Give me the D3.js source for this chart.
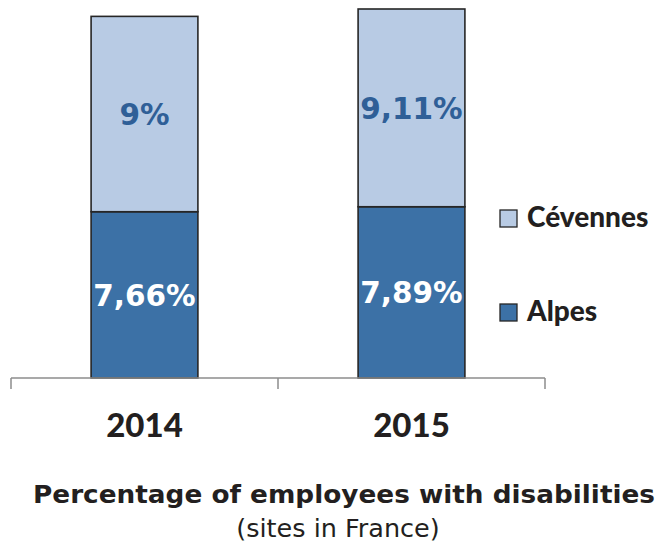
<!DOCTYPE html>
<html><head><meta charset="utf-8">
<script src="https://cdn.jsdelivr.net/npm/d3@7"></script>
<style>body{margin:0;background:#fff}</style>
</head><body>
<svg id="c" width="657" height="548"></svg>
<script>
const years = ["2014", "2015"];
const alpes = [7.66, 7.89];
const cevennes = [9, 9.11];
const alpesLabels = ["7,66%", "7,89%"];
const cevennesLabels = ["9%", "9,11%"];
const seriesNames = ["Cévennes", "Alpes"];

const svg = d3.select("#c");
const x = d3.scaleBand().domain(years).range([11, 545]).paddingInner(0.6).paddingOuter(0.3);
const y = d3.scaleLinear().domain([0, 17]).range([378, 9]);
const colors = {Alpes: "#3C71A6", "Cévennes": "#B8CBE4"};

const data = years.map((yr, i) => ({year: yr, Alpes: alpes[i], "Cévennes": cevennes[i]}));
const stack = d3.stack().keys(["Alpes", "Cévennes"])(data);

const g = svg.append("g");
stack.forEach(s => {
  g.selectAll(null).data(s).join("rect")
    .attr("x", d => x(d.data.year))
    .attr("y", d => y(d[1]))
    .attr("width", x.bandwidth())
    .attr("height", d => y(d[0]) - y(d[1]))
    .attr("fill", colors[s.key])
    .attr("stroke", "#262626")
    .attr("stroke-width", 1.6);
});

// value labels
const lblFont = "'DejaVu Sans', Verdana, sans-serif";
years.forEach((yr, i) => {
  const cx = x(yr) + x.bandwidth() / 2;
  svg.append("text").attr("x", cx).attr("y", y(alpes[i] / 2) + 11)
    .attr("text-anchor", "middle").attr("font-family", lblFont).attr("font-weight", "bold")
    .attr("font-size", 29.5).attr("fill", "#ffffff").text(alpesLabels[i]);
  svg.append("text").attr("x", cx).attr("y", y(alpes[i] + cevennes[i] / 2) + 11)
    .attr("text-anchor", "middle").attr("font-family", lblFont).attr("font-weight", "bold")
    .attr("font-size", 29.5).attr("fill", "#2F5F97").text(cevennesLabels[i]);
});

// axis
const axisG = svg.append("g").attr("transform", "translate(0,378)");
axisG.append("line").attr("x1", 11).attr("x2", 545).attr("y1", 0).attr("y2", 0)
  .attr("stroke", "#8c8c8c").attr("stroke-width", 1.5);
const tickXs = [x.range()[0], (x(years[0]) + x.bandwidth() + x(years[1])) / 2, x.range()[1]];
tickXs.forEach(tx => axisG.append("line").attr("x1", tx).attr("x2", tx).attr("y1", 0).attr("y2", 11)
  .attr("stroke", "#8c8c8c").attr("stroke-width", 1.5));
const catFont = "Lato, 'Open Sans', sans-serif";
years.forEach(yr => {
  svg.append("text").attr("x", x(yr) + x.bandwidth() / 2).attr("y", 437)
    .attr("text-anchor", "middle").attr("font-family", catFont).attr("font-weight", 900)
    .attr("font-size", 33).attr("fill", "#231f20").text(yr);
});

// legend
const legTop = [210, 304];
seriesNames.forEach((name, i) => {
  svg.append("rect").attr("x", 500).attr("y", legTop[i]).attr("width", 17).attr("height", 17)
    .attr("fill", colors[name]).attr("stroke", "#262626").attr("stroke-width", 1.3);
  svg.append("text").attr("x", 527).attr("y", legTop[i] + 17)
    .attr("font-family", catFont).attr("font-weight", 900).attr("font-size", 28)
    .attr("fill", "#231f20").text(name);
});

// title
svg.append("text").attr("x", 344).attr("y", 503).attr("text-anchor", "middle")
  .attr("font-family", lblFont).attr("font-weight", "bold").attr("font-size", 25.5)
  .attr("textLength", 622).attr("lengthAdjust", "spacingAndGlyphs")
  .attr("fill", "#231f20").text("Percentage of employees with disabilities");
svg.append("text").attr("x", 338).attr("y", 537).attr("text-anchor", "middle")
  .attr("font-family", lblFont).attr("font-size", 25.5)
  .attr("fill", "#231f20").text("(sites in France)");
</script>
</body></html>
